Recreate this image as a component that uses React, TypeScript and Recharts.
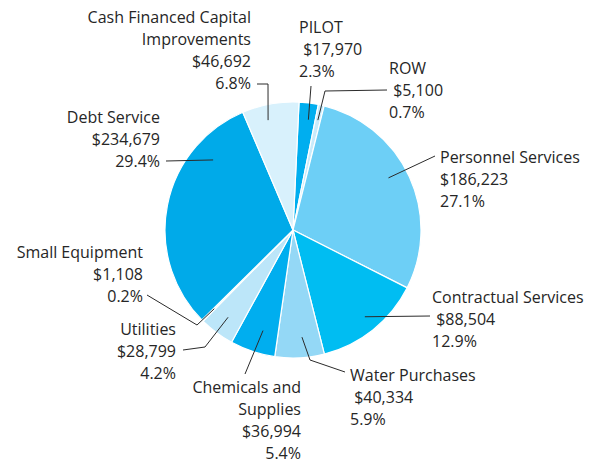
import React from 'react';
import { PieChart, Pie, Cell } from 'recharts';

const categories = [
  'PILOT',
  'ROW',
  'Personnel Services',
  'Contractual Services',
  'Water Purchases',
  'Chemicals and\nSupplies',
  'Utilities',
  'Small Equipment',
  'Debt Service',
  'Cash Financed Capital\nImprovements',
];
const amounts = [17970, 5100, 186223, 88504, 40334, 36994, 28799, 1108, 234679, 46692];
const percents = [2.3, 0.7, 27.1, 12.9, 5.9, 5.4, 4.2, 0.2, 29.4, 6.8];
const amountIndent = [true, true, false, true, true, false, false, false, false, false];

const colors = [
  '#00aeef', '#c8ebfb', '#6dcff6', '#00bdf2', '#94d8f6',
  '#00aeef', '#bce6f9', '#d6f0fc', '#00aae9', '#d8f1fc',
];

// label layout: text anchor, leader elbows, inner point placement (fraction within slice, radius ratio)
const layout = [
  { x: 299, y: 27, anchor: 'start', pts: [[311, 86]], f: 0.6, rr: 0.87 },
  { x: 389, y: 68, anchor: 'start', pts: [[387, 90], [325, 91]], f: 0.5, rr: 0.88 },
  { x: 440, y: 157, anchor: 'start', pts: [[435, 156]], f: 0.46, rr: 0.85 },
  { x: 432, y: 297, anchor: 'start', pts: [[430, 316]], f: 0.48, rr: 0.88 },
  { x: 350, y: 375, anchor: 'start', pts: [[345, 372], [310, 360]], f: 0.42, rr: 0.84 },
  { x: 301, y: 387, anchor: 'end', pts: [[245, 374]], f: 0.41, rr: 0.82 },
  { x: 176, y: 329, anchor: 'end', pts: [[183, 350], [205, 347]], f: 0.5, rr: 0.85 },
  { x: 143, y: 252, anchor: 'end', pts: [[147, 295], [197, 325]], f: 0.5, rr: 0.87 },
  { x: 160, y: 117, anchor: 'end', pts: [[166, 161]], f: 0.77, rr: 0.83 },
  { x: 251, y: 17, anchor: 'end', pts: [[257, 84], [268, 84]], f: 0.4, rr: 0.88 },
];

const data = categories.map((name, i) => ({ name, value: percents[i], amount: amounts[i] }));

const CX = 293;
const CY = 230;
const R = 128;
const START = 87.3;
const LINE_H = 22;
const total = percents.reduce((a, b) => a + b, 0);

const fmt = (n: number) => '$' + n.toLocaleString('en-US');

const renderLabel = (props: any) => {
  const i = props.index;
  const cx = props.cx ?? CX;
  const cy = props.cy ?? CY;
  const outer = props.outerRadius ?? R;
  const before = percents.slice(0, i).reduce((a, b) => a + b, 0);
  const L = layout[i];
  const a0 = START - (before / total) * 360;
  const a1 = START - ((before + percents[i]) / total) * 360;
  const ang = a0 + (a1 - a0) * L.f;
  const rad = (ang * Math.PI) / 180;
  const ix = cx + outer * L.rr * Math.cos(rad);
  const iy = cy - outer * L.rr * Math.sin(rad);
  const pts = [...L.pts, [ix, iy]].map((p) => p.join(',')).join(' ');
  const lines = [
    ...categories[i].split('\n'),
    (amountIndent[i] ? ' ' : '') + fmt(amounts[i]),
    percents[i].toFixed(1) + '%',
  ];
  return (
    <g key={'lbl' + i}>
      <polyline points={pts} fill="none" stroke="#2b2b2b" strokeWidth={1} />
      {lines.map((t, k) => (
        <text
          key={k}
          x={L.x}
          y={L.y + k * LINE_H}
          textAnchor={L.anchor as any}
          dominantBaseline="central"
          fill="#262626"
          fontSize={16}
          xmlSpace="preserve"
          style={{ whiteSpace: 'pre' }}
          fontFamily="'Open Sans', 'Noto Sans', sans-serif"
        >
          {t}
        </text>
      ))}
    </g>
  );
};

export default function App() {
  return (
    <div style={{ position: 'absolute', left: 0, top: 0, width: 595, height: 464, background: '#fff' }}>
      <PieChart width={595} height={464} margin={{ top: 0, right: 0, bottom: 0, left: 0 }}>
        <Pie
          data={data}
          dataKey="value"
          nameKey="name"
          cx={CX}
          cy={CY}
          innerRadius={0}
          outerRadius={R}
          startAngle={START}
          endAngle={START - 360}
          stroke="#ffffff"
          strokeWidth={1.2}
          label={renderLabel}
          labelLine={false}
          isAnimationActive={false}
        >
          {data.map((d, i) => (
            <Cell key={d.name} fill={colors[i]} />
          ))}
        </Pie>
      </PieChart>
    </div>
  );
}
